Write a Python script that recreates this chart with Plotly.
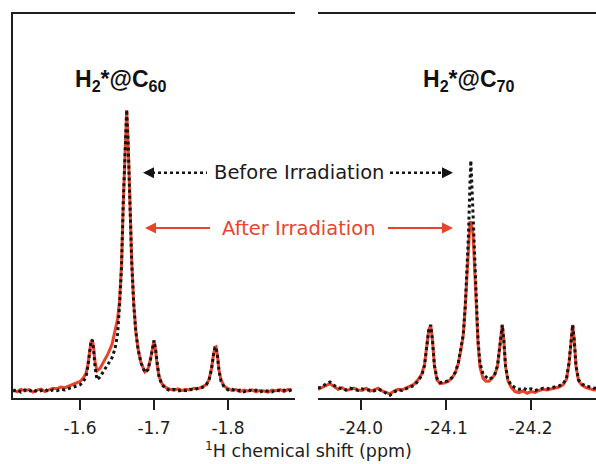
import plotly.graph_objects as go

# ---------------- data ----------------
# Left panel: H2*@C60, 1H chemical shift (ppm)
c60_ppm = [-1.5095, -1.5149, -1.5203, -1.5257, -1.5311, -1.5365, -1.5419, -1.5473, -1.5527, -1.5581,
           -1.5635, -1.5689, -1.5743, -1.5797, -1.5851, -1.5905, -1.5959, -1.6000, -1.6041, -1.6081,
           -1.6108, -1.6128, -1.6149, -1.6166, -1.6182, -1.6203, -1.6230, -1.6270, -1.6324, -1.6378,
           -1.6432, -1.6473, -1.6507, -1.6534, -1.6561, -1.6586, -1.6611, -1.6631, -1.6651, -1.6676,
           -1.6699, -1.6726, -1.6753, -1.6784, -1.6824, -1.6878, -1.6919, -1.6953, -1.6980, -1.7000,
           -1.7020, -1.7041, -1.7068, -1.7108, -1.7162, -1.7216, -1.7270, -1.7324, -1.7378, -1.7432,
           -1.7486, -1.7541, -1.7595, -1.7649, -1.7703, -1.7743, -1.7777, -1.7804, -1.7824, -1.7838,
           -1.7858, -1.7878, -1.7905, -1.7946, -1.8000, -1.8054, -1.8108, -1.8162, -1.8216, -1.8270,
           -1.8324, -1.8378, -1.8432, -1.8486, -1.8541, -1.8595, -1.8649, -1.8703, -1.8757, -1.8811,
           -1.8865]
c60_after = [0.004, -0.003, 0.006, 0.000, 0.005, -0.004, 0.003, 0.007, -0.002, 0.004,
             0.010, 0.008, 0.014, 0.012, 0.018, 0.022, 0.028, 0.034, 0.045, 0.062,
             0.095, 0.140, 0.176, 0.182, 0.160, 0.105, 0.072, 0.080, 0.105, 0.132,
             0.165, 0.210, 0.255, 0.320, 0.450, 0.680, 0.900, 1.000, 0.880, 0.660,
             0.460, 0.310, 0.215, 0.150, 0.100, 0.068, 0.078, 0.115, 0.160, 0.180,
             0.150, 0.095, 0.052, 0.025, 0.012, 0.006, 0.003, 0.008, 0.002, 0.006,
             0.004, 0.010, 0.008, 0.015, 0.022, 0.040, 0.080, 0.130, 0.155, 0.157,
             0.125, 0.075, 0.040, 0.018, 0.008, 0.002, 0.005, -0.002, 0.003, 0.000,
             0.004, -0.003, 0.002, 0.000, -0.004, 0.003, 0.001, 0.005, -0.002, 0.006,
             0.004]
c60_before = [0.000, 0.005, -0.004, 0.004, -0.002, 0.006, -0.003, 0.002, 0.006, -0.002,
              0.004, 0.001, 0.006, 0.004, 0.009, 0.012, 0.018, 0.022, 0.032, 0.050,
              0.090, 0.140, 0.178, 0.182, 0.150, 0.085, 0.040, 0.050, 0.072, 0.092,
              0.118, 0.150, 0.200, 0.300, 0.440, 0.680, 0.900, 1.000, 0.880, 0.660,
              0.460, 0.310, 0.215, 0.150, 0.100, 0.066, 0.076, 0.112, 0.160, 0.180,
              0.150, 0.095, 0.050, 0.022, 0.008, 0.002, 0.006, 0.000, 0.004, 0.001,
              0.006, 0.004, 0.010, 0.012, 0.020, 0.038, 0.078, 0.128, 0.155, 0.157,
              0.125, 0.072, 0.036, 0.015, 0.004, 0.006, 0.000, 0.003, -0.003, 0.004,
              0.000, 0.003, -0.004, 0.002, 0.000, -0.003, 0.004, 0.000, 0.003, -0.001,
              0.005]

# Right panel: H2*@C70
c70_ppm = [-23.9493, -23.9540, -23.9587, -23.9634, -23.9682, -23.9729, -23.9776, -23.9823, -23.9870, -23.9917,
           -23.9965, -24.0012, -24.0059, -24.0106, -24.0153, -24.0200, -24.0248, -24.0295, -24.0342, -24.0389,
           -24.0436, -24.0483, -24.0531, -24.0578, -24.0625, -24.0672, -24.0716, -24.0749, -24.0778, -24.0798,
           -24.0822, -24.0843, -24.0866, -24.0896, -24.0932, -24.0979, -24.1026, -24.1073, -24.1114, -24.1147,
           -24.1179, -24.1206, -24.1229, -24.1250, -24.1268, -24.1285, -24.1295, -24.1304, -24.1321, -24.1338,
           -24.1360, -24.1380, -24.1403, -24.1439, -24.1474, -24.1509, -24.1545, -24.1580, -24.1610, -24.1633,
           -24.1651, -24.1666, -24.1684, -24.1704, -24.1733, -24.1769, -24.1816, -24.1863, -24.1910, -24.1958,
           -24.2005, -24.2052, -24.2099, -24.2146, -24.2193, -24.2241, -24.2288, -24.2335, -24.2382, -24.2423,
           -24.2453, -24.2476, -24.2496, -24.2515, -24.2535, -24.2565, -24.2606, -24.2653, -24.2700, -24.2748,
           -24.2795]
c70_before = [0.010, 0.015, 0.025, 0.032, 0.020, 0.012, 0.008, 0.004, 0.010, 0.005,
              0.002, 0.008, 0.004, 0.004, 0.000, 0.006, 0.002, -0.008, -0.015, -0.004,
              0.004, 0.002, 0.008, 0.012, 0.020, 0.035, 0.055, 0.090, 0.160, 0.215,
              0.235, 0.180, 0.090, 0.045, 0.030, 0.032, 0.036, 0.048, 0.068, 0.100,
              0.150, 0.200, 0.300, 0.420, 0.560, 0.740, 0.820, 0.760, 0.620, 0.470,
              0.300, 0.180, 0.100, 0.060, 0.050, 0.042, 0.048, 0.062, 0.090, 0.150,
              0.210, 0.235, 0.180, 0.090, 0.040, 0.022, 0.012, 0.006, 0.010, 0.004,
              0.008, 0.002, 0.006, 0.010, 0.008, 0.012, 0.014, 0.018, 0.025, 0.045,
              0.100, 0.190, 0.235, 0.180, 0.090, 0.040, 0.025, 0.018, 0.014, 0.010,
              0.012]
c70_after = [0.006, 0.012, 0.020, 0.026, 0.016, 0.006, 0.012, 0.002, 0.006, 0.010,
             0.004, 0.002, 0.010, 0.000, 0.004, 0.010, 0.000, -0.004, -0.010, 0.000,
             0.006, 0.004, 0.010, 0.016, 0.024, 0.040, 0.060, 0.095, 0.160, 0.215,
             0.235, 0.180, 0.090, 0.040, 0.026, 0.028, 0.034, 0.046, 0.066, 0.098,
             0.148, 0.200, 0.300, 0.420, 0.540, 0.600, 0.600, 0.590, 0.560, 0.450,
             0.290, 0.170, 0.085, 0.045, 0.035, 0.035, 0.045, 0.060, 0.090, 0.150,
             0.210, 0.235, 0.180, 0.088, 0.036, 0.014, -0.002, -0.006, 0.000, -0.008,
             -0.002, -0.005, 0.002, 0.006, 0.004, 0.008, 0.010, 0.014, 0.022, 0.042,
             0.098, 0.188, 0.235, 0.178, 0.088, 0.036, 0.020, 0.012, 0.008, 0.004,
             0.008]

c60_ticks = [-1.6, -1.7, -1.8]
c60_ticktext = ["-1.6", "-1.7", "-1.8"]
c70_ticks = [-24.0, -24.1, -24.2]
c70_ticktext = ["-24.0", "-24.1", "-24.2"]

# ---------------- styling ----------------
W, H = 596, 464
RED = "#e8442c"
BLACK = "#141414"
AXC = "#1e1e1e"


def px(x):
    return x / W


def py(y):
    return (H - y) / H


fig = go.Figure()

fig.add_trace(go.Scatter(x=c60_ppm, y=c60_after, mode="lines", name="After Irradiation",
                         line=dict(color=RED, width=3), xaxis="x", yaxis="y"))
fig.add_trace(go.Scatter(x=c60_ppm, y=c60_before, mode="lines", name="Before Irradiation",
                         line=dict(color=BLACK, width=3, dash="3px,3px"), xaxis="x", yaxis="y"))
fig.add_trace(go.Scatter(x=c70_ppm, y=c70_after, mode="lines", name="After Irradiation",
                         line=dict(color=RED, width=3), xaxis="x2", yaxis="y2"))
fig.add_trace(go.Scatter(x=c70_ppm, y=c70_before, mode="lines", name="Before Irradiation",
                         line=dict(color=BLACK, width=3, dash="3px,3px"), xaxis="x2", yaxis="y2"))

tickfont = dict(family="DejaVu Sans", size=17, color=AXC)
yrange = [-0.0249, 1.3416]

fig.update_layout(
    width=W, height=H,
    margin=dict(l=0, r=0, t=0, b=0),
    paper_bgcolor="white", plot_bgcolor="white",
    showlegend=False,
    xaxis=dict(domain=[px(13), px(295)], range=[-1.50946, -1.89054],
               showline=True, linecolor=AXC, linewidth=2, mirror=True,
               ticks="outside", ticklen=10, tickwidth=2, tickcolor=AXC,
               tickvals=c60_ticks, ticktext=c60_ticktext, tickfont=tickfont,
               ticklabelstandoff=4,
               showgrid=False, zeroline=False, anchor="y"),
    yaxis=dict(domain=[py(398), py(14)], range=yrange,
               showline=True, linecolor=AXC, linewidth=2, mirror=False,
               showticklabels=False, ticks="", showgrid=False, zeroline=False, anchor="x"),
    xaxis2=dict(domain=[px(318), 1.0], range=[-23.9493, -24.2771],
                showline=True, linecolor=AXC, linewidth=2, mirror=True,
                ticks="outside", ticklen=10, tickwidth=2, tickcolor=AXC,
                tickvals=c70_ticks, ticktext=c70_ticktext, tickfont=tickfont,
                ticklabelstandoff=4,
                showgrid=False, zeroline=False, anchor="y2"),
    yaxis2=dict(domain=[py(398), py(14)], range=yrange,
                showline=False, showticklabels=False, ticks="",
                showgrid=False, zeroline=False, anchor="x2"),
)

ann = []
# panel labels
ann.append(dict(x=px(121), y=py(80), xref="paper", yref="paper", showarrow=False,
                text="<b>H<sub>2</sub>*@C<sub>60</sub></b>",
                font=dict(family="Liberation Sans", size=23, color="#111"),
                xanchor="center", yanchor="middle"))
ann.append(dict(x=px(469), y=py(80), xref="paper", yref="paper", showarrow=False,
                text="<b>H<sub>2</sub>*@C<sub>70</sub></b>",
                font=dict(family="Liberation Sans", size=23, color="#111"),
                xanchor="center", yanchor="middle"))
# irradiation labels
ann.append(dict(x=px(299), y=py(172), xref="paper", yref="paper", showarrow=False,
                text="Before Irradiation",
                font=dict(family="DejaVu Sans", size=19.5, color="#1a1a1a"),
                xanchor="center", yanchor="middle"))
ann.append(dict(x=px(299), y=py(228), xref="paper", yref="paper", showarrow=False,
                text="After Irradiation",
                font=dict(family="DejaVu Sans", size=19.5, color=RED),
                xanchor="center", yanchor="middle"))
# axis title
ann.append(dict(x=px(309), y=py(450), xref="paper", yref="paper", showarrow=False,
                text="<sup>1</sup>H chemical shift (ppm)",
                font=dict(family="DejaVu Sans", size=17.5, color=AXC),
                xanchor="center", yanchor="middle"))

# arrow heads
for tip_x, yy, dx, col in [(143, 172.7, 9, BLACK), (453, 172.7, -9, BLACK),
                            (145, 228, 9, RED), (453, 228, -9, RED)]:
    ann.append(dict(x=px(tip_x), y=py(yy), xref="paper", yref="paper",
                    ax=dx, ay=0, text="", showarrow=True,
                    arrowhead=2, arrowsize=1.1, arrowwidth=2, arrowcolor=col, standoff=0))
fig.update_layout(annotations=ann)

# arrow shafts
shapes = []
for x0, x1, yy, col, dash in [(146, 207, 172.7, BLACK, "dot"), (390, 450, 172.7, BLACK, "dot"),
                               (148, 210, 228, RED, "solid"), (388, 450, 228, RED, "solid")]:
    shapes.append(dict(type="line", xref="paper", yref="paper",
                       x0=px(x0), x1=px(x1), y0=py(yy), y1=py(yy),
                       line=dict(color=col, width=2.5 if dash == "dot" else 2, dash=dash)))
fig.update_layout(shapes=shapes)

fig.write_html("out.html")
